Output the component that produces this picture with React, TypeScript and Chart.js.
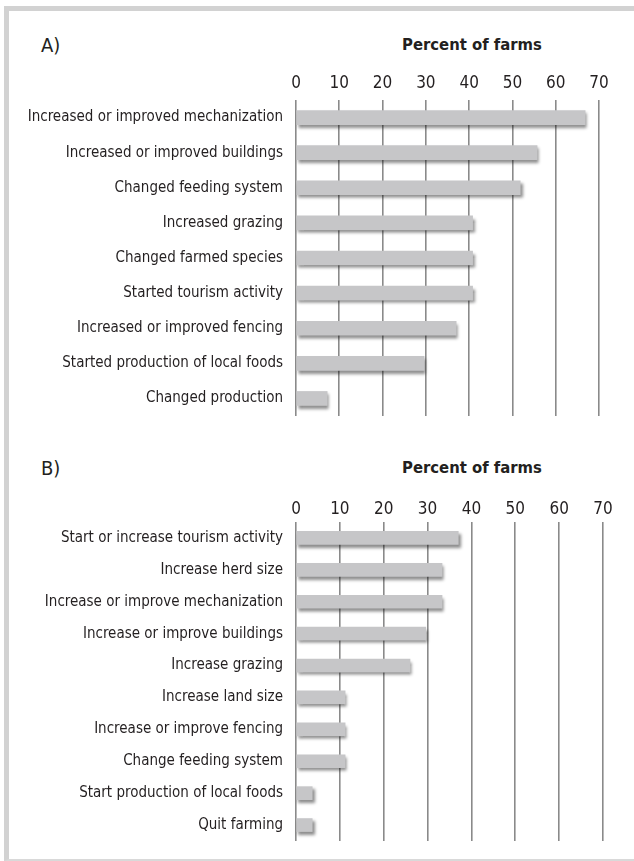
import React, { useEffect, useRef } from 'react';
import { Chart, registerables } from 'chart.js';

Chart.register(...registerables);

// ---------- data ----------
const panelLabels = ['A)', 'B)'];
const axisTitle = 'Percent of farms';
const xTicks = [0, 10, 20, 30, 40, 50, 60, 70];

const categoriesA = [
  'Increased or improved mechanization',
  'Increased or improved buildings',
  'Changed feeding system',
  'Increased grazing',
  'Changed farmed species',
  'Started tourism activity',
  'Increased or improved fencing',
  'Started production of local foods',
  'Changed production',
];
const valuesA = [66.8, 55.7, 51.8, 40.8, 40.8, 40.8, 37, 29.6, 7.2];

const categoriesB = [
  'Start or increase tourism activity',
  'Increase herd size',
  'Increase or improve mechanization',
  'Increase or improve buildings',
  'Increase grazing',
  'Increase land size',
  'Increase or improve fencing',
  'Change feeding system',
  'Start production of local foods',
  'Quit farming',
];
const valuesB = [37, 33.3, 33.3, 29.6, 26, 11.2, 11.2, 11.2, 3.7, 3.7];

// ---------- styles ----------
const FONT = "'Liberation Sans Narrow', 'Arial Narrow', 'DejaVu Sans Condensed', sans-serif";
const TEXT = '#231f20';

const shadowPlugin = {
  id: 'barShadow',
  beforeDatasetsDraw(chart: any) {
    const c = chart.ctx;
    c.save();
    c.shadowColor = 'rgba(0,0,0,0.45)';
    c.shadowOffsetX = 2;
    c.shadowOffsetY = 3;
    c.shadowBlur = 3;
  },
  afterDatasetsDraw(chart: any) {
    chart.ctx.restore();
  },
};

type PanelProps = {
  labels: string[];
  values: number[];
  top: number;
  height: number;
  axisHeight: number;
  tickPad: number;
  right: number;
  barThickness: number;
};

function Panel({ labels, values, top, height, axisHeight, tickPad, right, barThickness }: PanelProps) {
  const ref = useRef<HTMLCanvasElement | null>(null);
  useEffect(() => {
    if (!ref.current) return;
    const chart = new Chart(ref.current, {
      type: 'bar',
      data: {
        labels,
        datasets: [
          {
            data: values,
            backgroundColor: '#c6c6c8',
            borderWidth: 0,
            barThickness,
            clip: false as any,
          },
        ],
      },
      options: {
        indexAxis: 'y',
        responsive: false,
        animation: false,
        layout: { padding: { left: 0, right: 634 - right, top: 0, bottom: 0 } },
        plugins: {
          legend: { display: false },
          tooltip: { enabled: false },
          title: { display: false },
        },
        scales: {
          x: {
            position: 'top',
            min: 0,
            max: 70,
            afterBuildTicks: (s: any) => {
              s.ticks = xTicks.map((v) => ({ value: v }));
            },
            afterFit: (s: any) => {
              s.height = axisHeight;
            },
            grid: { display: true, drawTicks: false, color: '#8a8a8a', lineWidth: 1.6 },
            border: { display: false },
            ticks: {
              padding: tickPad,
              color: TEXT,
              font: { family: FONT, size: 17 },
              maxRotation: 0,
              autoSkip: false,
            },
          },
          y: {
            afterFit: (s: any) => {
              s.width = 296;
              s.paddingTop = 0;
              s.paddingBottom = 0;
            },
            grid: { display: false, drawTicks: false },
            border: { display: false },
            ticks: {
              padding: 13,
              color: TEXT,
              font: { family: FONT, size: 15 },
              autoSkip: false,
            },
          },
        },
      },
      plugins: [shadowPlugin],
    });
    return () => chart.destroy();
  }, []);
  return (
    <div style={{ position: 'absolute', left: 0, top, width: 634, height }}>
      <canvas ref={ref} width={634} height={height} style={{ display: 'block' }} />
    </div>
  );
}

const textStyle: React.CSSProperties = {
  position: 'absolute',
  fontFamily: FONT,
  color: TEXT,
  lineHeight: '24px',
  whiteSpace: 'nowrap',
};

export default function App() {
  return (
    <div
      style={{
        position: 'absolute',
        left: 0,
        top: 0,
        width: 634,
        height: 861,
        background: '#ffffff',
        overflow: 'hidden',
      }}
    >
      <div
        style={{
          position: 'absolute',
          left: 4,
          top: 6,
          width: 640,
          height: 855,
          boxSizing: 'border-box',
          borderLeft: '5px solid #d2d2d2',
          borderTop: '5px solid #d2d2d2',
          borderBottom: '2px solid #d9d9d9',
        }}
      />
      <div style={{ ...textStyle, left: 41, top: 33, fontSize: 20 }}>{panelLabels[0]}</div>
      <div style={{ ...textStyle, left: 402, top: 33, fontSize: 16.5, fontWeight: 'bold' }}>{axisTitle}</div>
      <Panel
        labels={categoriesA}
        values={valuesA}
        top={0}
        height={416}
        axisHeight={100}
        tickPad={6}
        right={599}
        barThickness={14}
      />
      <div style={{ ...textStyle, left: 41, top: 456, fontSize: 20 }}>{panelLabels[1]}</div>
      <div style={{ ...textStyle, left: 402, top: 456, fontSize: 16.5, fontWeight: 'bold' }}>{axisTitle}</div>
      <Panel
        labels={categoriesB}
        values={valuesB}
        top={430}
        height={411}
        axisHeight={92}
        tickPad={2}
        right={603}
        barThickness={13}
      />
    </div>
  );
}
